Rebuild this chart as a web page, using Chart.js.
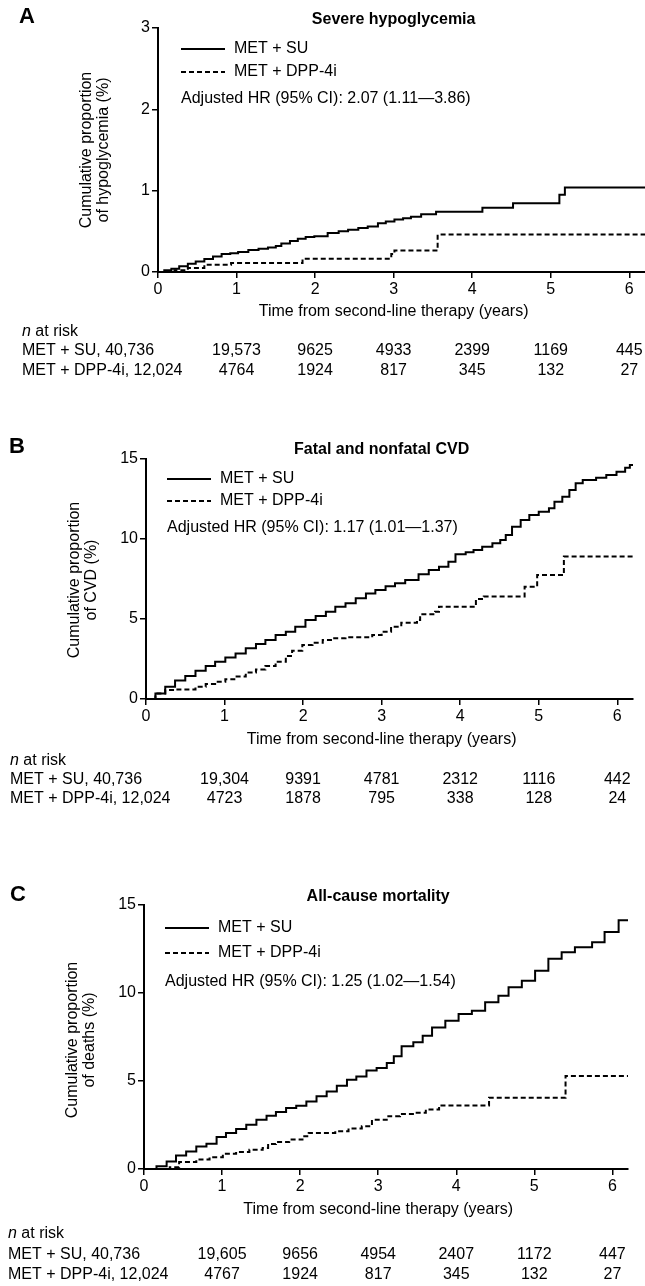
<!DOCTYPE html>
<html>
<head>
<meta charset="utf-8">
<script src="https://cdn.jsdelivr.net/npm/chart.js@4.4.0/dist/chart.umd.min.js"></script>
<style>
  body { margin: 0; background: #fff; width: 645px; height: 1286px; position: relative; overflow: hidden; }
  canvas { position: absolute; left: 0; }
</style>
</head>
<body>
<canvas id="chartA" width="645" height="420" style="top:0"></canvas>
<canvas id="chartB" width="645" height="420" style="top:420px"></canvas>
<canvas id="chartC" width="645" height="446" style="top:840px"></canvas>
<script>
const FONT = '"Liberation Sans", Arial, sans-serif';

const xTicks = [0, 1, 2, 3, 4, 5, 6];
const riskYears = [1, 2, 3, 4, 5, 6];
const seriesNames = ['MET + SU', 'MET + DPP-4i'];
const riskLabels = ['MET + SU, 40,736', 'MET + DPP-4i, 12,024'];

// A - severe hypoglycemia
const hypoTicks = [0, 1, 2, 3];
const hypoSuYears = [0, 0.08, 0.17, 0.27, 0.38, 0.48, 0.59, 0.7, 0.81, 0.92, 1.02, 1.15, 1.28, 1.4, 1.5, 1.57, 1.68, 1.78, 1.88, 1.99, 2.16, 2.3, 2.42, 2.55, 2.67, 2.8, 2.9, 3.01, 3.12, 3.22, 3.35, 3.54, 4.13, 4.52, 5.11, 5.18, 6.2];
const hypoSuPct = [0, 0.02, 0.04, 0.07, 0.10, 0.13, 0.16, 0.19, 0.22, 0.23, 0.245, 0.27, 0.285, 0.30, 0.32, 0.35, 0.38, 0.41, 0.43, 0.44, 0.48, 0.50, 0.52, 0.54, 0.56, 0.60, 0.62, 0.645, 0.66, 0.68, 0.71, 0.74, 0.79, 0.845, 0.95, 1.04, 1.04];
const hypoDppYears = [0, 0.21, 0.38, 0.59, 0.93, 1.84, 2.97, 3.01, 3.56, 6.2];
const hypoDppPct = [0, 0.02, 0.05, 0.09, 0.11, 0.163, 0.22, 0.265, 0.46, 0.46];
const hypoRiskSu = ['19,573', '9625', '4933', '2399', '1169', '445'];
const hypoRiskDpp = ['4764', '1924', '817', '345', '132', '27'];

// B - fatal and nonfatal CVD
const cvdTicks = [0, 5, 10, 15];
const cvdSuYears = [0, 0.12, 0.245, 0.37, 0.5, 0.63, 0.76, 0.88, 1.01, 1.14, 1.27, 1.4, 1.52, 1.65, 1.78, 1.9, 2.03, 2.16, 2.29, 2.41, 2.54, 2.67, 2.8, 2.92, 3.05, 3.17, 3.3, 3.47, 3.6, 3.73, 3.85, 3.94, 4.07, 4.17, 4.28, 4.41, 4.51, 4.58, 4.66, 4.77, 4.88, 5.0, 5.13, 5.2, 5.3, 5.39, 5.47, 5.56, 5.73, 5.86, 5.99, 6.1, 6.16, 6.2];
const cvdSuPct = [0, 0.35, 0.77, 1.15, 1.44, 1.77, 2.06, 2.33, 2.6, 2.85, 3.17, 3.44, 3.69, 4.0, 4.21, 4.52, 4.94, 5.19, 5.46, 5.77, 5.98, 6.29, 6.6, 6.81, 7.05, 7.23, 7.44, 7.79, 8.06, 8.27, 8.58, 9.04, 9.17, 9.31, 9.52, 9.73, 9.94, 10.25, 10.77, 11.19, 11.5, 11.71, 11.92, 12.33, 12.64, 13.06, 13.48, 13.69, 13.83, 14.0, 14.21, 14.46, 14.63, 14.63];
const cvdDppYears = [0, 0.12, 0.245, 0.37, 0.63, 0.76, 0.88, 1.01, 1.14, 1.27, 1.4, 1.52, 1.65, 1.78, 1.86, 1.99, 2.12, 2.25, 2.37, 2.54, 2.88, 3.0, 3.12, 3.25, 3.45, 3.49, 3.68, 3.73, 4.2, 4.3, 4.82, 4.98, 5.32, 6.2];
const cvdDppPct = [0, 0.35, 0.56, 0.6, 0.77, 0.94, 1.08, 1.23, 1.4, 1.65, 1.85, 2.06, 2.33, 2.69, 3.02, 3.38, 3.52, 3.69, 3.8, 3.86, 4.0, 4.21, 4.52, 4.77, 4.94, 5.29, 5.46, 5.77, 6.25, 6.4, 7.02, 7.75, 8.9, 8.9];
const cvdRiskSu = ['19,304', '9391', '4781', '2312', '1116', '442'];
const cvdRiskDpp = ['4723', '1878', '795', '338', '128', '24'];

// C - all-cause mortality
const deathTicks = [0, 5, 10, 15];
const deathSuYears = [0, 0.16, 0.29, 0.41, 0.54, 0.67, 0.8, 0.93, 1.05, 1.18, 1.31, 1.44, 1.57, 1.69, 1.82, 1.95, 2.08, 2.21, 2.34, 2.47, 2.6, 2.72, 2.85, 2.98, 3.11, 3.2, 3.3, 3.45, 3.57, 3.69, 3.86, 4.03, 4.2, 4.37, 4.54, 4.67, 4.84, 5.01, 5.18, 5.35, 5.52, 5.74, 5.9, 6.08, 6.2];
const deathSuPct = [0, 0.15, 0.43, 0.76, 1.0, 1.28, 1.44, 1.82, 2.05, 2.27, 2.52, 2.8, 3.03, 3.24, 3.47, 3.6, 3.84, 4.13, 4.41, 4.73, 5.07, 5.26, 5.6, 5.74, 6.02, 6.4, 6.97, 7.2, 7.57, 8.04, 8.42, 8.8, 8.99, 9.47, 9.85, 10.32, 10.7, 11.27, 11.94, 12.32, 12.6, 12.89, 13.46, 14.13, 14.13];
const deathDppYears = [0, 0.33, 0.45, 0.67, 0.84, 1.01, 1.18, 1.35, 1.52, 1.59, 1.69, 1.86, 2.03, 2.11, 2.45, 2.62, 2.79, 2.92, 3.13, 3.28, 3.48, 3.61, 3.78, 4.42, 5.4, 6.2];
const deathDppPct = [0, 0.1, 0.4, 0.54, 0.67, 0.86, 0.97, 1.1, 1.2, 1.42, 1.53, 1.67, 1.86, 2.05, 2.15, 2.3, 2.43, 2.8, 3.0, 3.13, 3.2, 3.38, 3.61, 4.05, 5.29, 5.29];
const deathRiskSu = ['19,605', '9656', '4954', '2407', '1172', '447'];
const deathRiskDpp = ['4767', '1924', '817', '345', '132', '27'];

function toPoints(xs, ys) {
  return xs.map((x, i) => ({ x: x, y: ys[i] }));
}

function makePanel(id, p) {
  const canvas = document.getElementById(id);
  const textPlugin = {
    id: 'panelText',
    afterDraw(chart) {
      const ctx = chart.ctx;
      const xs = chart.scales.x;
      const cx = xs.getPixelForValue(3);
      ctx.save();
      ctx.fillStyle = '#000';
      ctx.strokeStyle = '#000';
      ctx.textBaseline = 'middle';

      ctx.textAlign = 'left';
      ctx.font = 'bold 22px ' + FONT;
      ctx.fillText(p.letter, p.letterX, p.letterY);

      ctx.textAlign = 'center';
      ctx.font = 'bold 16px ' + FONT;
      ctx.fillText(p.title, cx, p.titleY);

      // legend
      ctx.lineWidth = 2;
      [0, 1].forEach(i => {
        const y = p.legendY[i];
        ctx.setLineDash(i === 0 ? [] : [5, 3]);
        ctx.beginPath();
        ctx.moveTo(p.legendX, y);
        ctx.lineTo(p.legendX + 44, y);
        ctx.stroke();
        ctx.textAlign = 'left';
        ctx.font = '16px ' + FONT;
        ctx.fillText(seriesNames[i], p.legendX + 53, y);
      });
      ctx.setLineDash([]);
      ctx.fillText(p.hr, p.legendX, p.hrY);

      // y axis title
      ctx.save();
      ctx.translate(p.yTitleX, p.yTitleY);
      ctx.rotate(-Math.PI / 2);
      ctx.textAlign = 'center';
      ctx.fillText('Cumulative proportion', 0, -8.5);
      ctx.fillText(p.yTitle2, 0, 8.5);
      ctx.restore();

      // x axis title
      ctx.textAlign = 'center';
      ctx.fillText('Time from second-line therapy (years)', cx, p.xTitleY);

      // n at risk
      ctx.textAlign = 'left';
      ctx.font = 'italic 16px ' + FONT;
      ctx.fillText('n', p.rowX, p.riskY);
      const nw = ctx.measureText('n').width;
      ctx.font = '16px ' + FONT;
      ctx.fillText(' at risk', p.rowX + nw, p.riskY);
      ctx.fillText(riskLabels[0], p.rowX, p.rowY[0]);
      ctx.fillText(riskLabels[1], p.rowX, p.rowY[1]);
      ctx.textAlign = 'center';
      riskYears.forEach((t, i) => {
        const px = xs.getPixelForValue(t);
        ctx.fillText(p.riskSu[i], px, p.rowY[0]);
        ctx.fillText(p.riskDpp[i], px, p.rowY[1]);
      });
      ctx.restore();
    }
  };

  new Chart(canvas, {
    type: 'line',
    data: {
      datasets: [
        { label: seriesNames[0], data: toPoints(p.suX, p.suY), borderColor: '#000', borderWidth: 2,
          stepped: 'before', pointRadius: 0, fill: false },
        { label: seriesNames[1], data: toPoints(p.dppX, p.dppY), borderColor: '#000', borderWidth: 2,
          borderDash: [5, 3], stepped: 'before', pointRadius: 0, fill: false }
      ]
    },
    options: {
      responsive: false,
      animation: false,
      layout: { padding: { left: 0, top: p.top, right: 645 - p.right, bottom: canvas.height - p.bottom - 30 } },
      plugins: { legend: { display: false }, tooltip: { enabled: false } },
      scales: {
        x: {
          type: 'linear', min: 0, max: 6.2,
          afterFit(s) { s.height = 30; },
          afterBuildTicks(s) { s.ticks = xTicks.map(v => ({ value: v })); },
          grid: { drawOnChartArea: false, color: '#000', lineWidth: 1.5, tickLength: 6 },
          border: { color: '#000', width: 2 },
          ticks: { color: '#000', font: { family: FONT, size: 16 }, padding: 2, maxRotation: 0 }
        },
        y: {
          type: 'linear', min: 0, max: p.yTicks[p.yTicks.length - 1],
          afterFit(s) { s.width = p.left; },
          afterBuildTicks(s) { s.ticks = p.yTicks.map(v => ({ value: v })); },
          grid: { drawOnChartArea: false, color: '#000', lineWidth: 1.5, tickLength: 6 },
          border: { color: '#000', width: 2 },
          ticks: { color: '#000', font: { family: FONT, size: 16 }, padding: 2 }
        }
      }
    },
    plugins: [textPlugin]
  });
}

makePanel('chartA', {
  letter: 'A', letterX: 19, letterY: 17, title: 'Severe hypoglycemia', titleY: 20,
  left: 158, right: 645, top: 28, bottom: 272,
  yTicks: hypoTicks, yTitle2: 'of hypoglycemia (%)', yTitleX: 95, yTitleY: 150,
  legendX: 181, legendY: [49, 72], hr: 'Adjusted HR (95% CI): 2.07 (1.11\u20143.86)', hrY: 99,
  xTitleY: 312, riskY: 332, rowX: 22, rowY: [351, 371],
  suX: hypoSuYears, suY: hypoSuPct, dppX: hypoDppYears, dppY: hypoDppPct,
  riskSu: hypoRiskSu, riskDpp: hypoRiskDpp
});

makePanel('chartB', {
  letter: 'B', letterX: 9, letterY: 27, title: 'Fatal and nonfatal CVD', titleY: 30,
  left: 146, right: 633, top: 39, bottom: 279,
  yTicks: cvdTicks, yTitle2: 'of CVD (%)', yTitleX: 83, yTitleY: 160,
  legendX: 167, legendY: [59, 81], hr: 'Adjusted HR (95% CI): 1.17 (1.01\u20141.37)', hrY: 108,
  xTitleY: 320, riskY: 341, rowX: 10, rowY: [360, 379],
  suX: cvdSuYears, suY: cvdSuPct, dppX: cvdDppYears, dppY: cvdDppPct,
  riskSu: cvdRiskSu, riskDpp: cvdRiskDpp
});

makePanel('chartC', {
  letter: 'C', letterX: 10, letterY: 55, title: 'All-cause mortality', titleY: 57,
  left: 144, right: 628, top: 65, bottom: 329,
  yTicks: deathTicks, yTitle2: 'of deaths (%)', yTitleX: 81, yTitleY: 200,
  legendX: 165, legendY: [88, 113], hr: 'Adjusted HR (95% CI): 1.25 (1.02\u20141.54)', hrY: 142,
  xTitleY: 370, riskY: 394, rowX: 8, rowY: [415, 435],
  suX: deathSuYears, suY: deathSuPct, dppX: deathDppYears, dppY: deathDppPct,
  riskSu: deathRiskSu, riskDpp: deathRiskDpp
});
</script>
</body>
</html>
